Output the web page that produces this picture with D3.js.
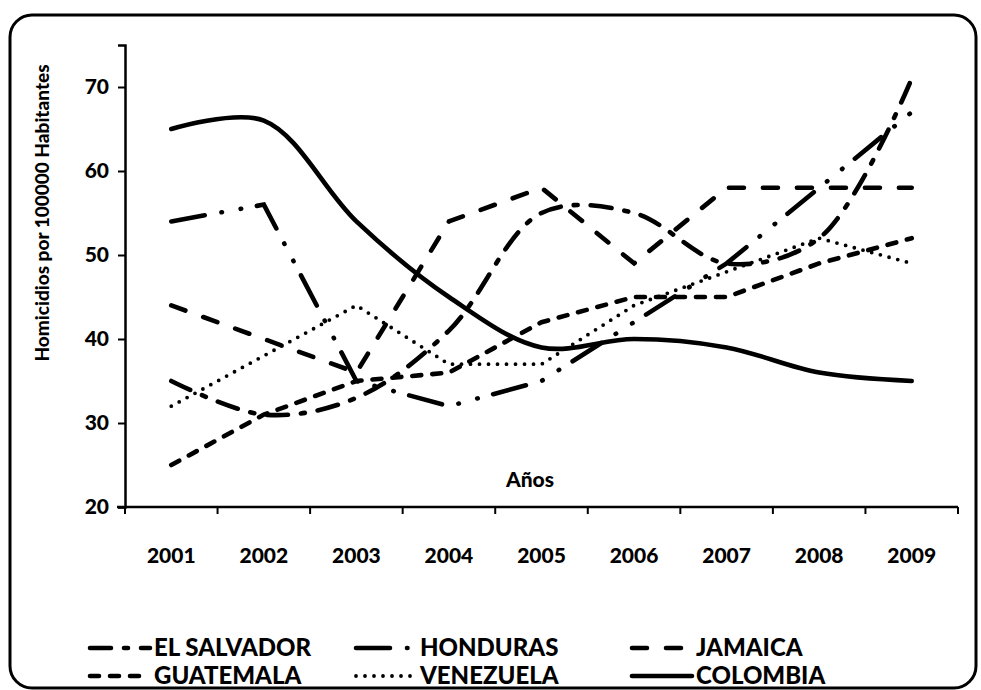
<!DOCTYPE html>
<html lang="en">
<head>
<meta charset="utf-8">
<script src="https://d3js.org/d3.v7.min.js"></script>
<style>
  body { margin: 0; background: #fff; }
  text { font-family: Lato, "Open Sans", sans-serif; font-weight: 900; fill: #000; }
</style>
</head>
<body>
<script>
// values
const years = ["2001", "2002", "2003", "2004", "2005", "2006", "2007", "2008", "2009"];
const elSalvador = [35, 31, 33, 41, 55, 55, 49, 52, 71];
const honduras   = [54, 56, 35, 32, 35, 42, 49, 58, 67];
const jamaica    = [44, 40, 36, 54, 58, 49, 58, 58, 58];
const guatemala  = [25, 31, 35, 36, 42, 45, 45, 49, 52];
const venezuela  = [32, 38, 44, 37, 37, 44, 48, 52, 49];
const colombia   = [65, 66, 54, 45, 39, 40, 39, 36, 35];
const yTicks = [20, 30, 40, 50, 60, 70];

const width = 981, height = 690;
const plotLeft = 125, plotRight = 958, plotTop = 45, plotBottom = 507;

const series = [
  {name: "EL SALVADOR", values: elSalvador, dash: "21,13,4,13", w: 4.6, smooth: true},
  {name: "HONDURAS", values: honduras, dash: "34,17,0.5,19,0.5,16", w: 4.6, smooth: false},
  {name: "JAMAICA", values: jamaica, dash: "15,19", w: 4.6, smooth: false},
  {name: "GUATEMALA", values: guatemala, dash: "9,11", w: 4.6, smooth: false},
  {name: "VENEZUELA", values: venezuela, dash: "0,9", w: 3.8, smooth: false},
  {name: "COLOMBIA", values: colombia, dash: null, w: 4.6, smooth: true}
];

const svg = d3.select("body").append("svg")
  .attr("width", width)
  .attr("height", height);

// outer frame
svg.append("rect")
  .attr("x", 10).attr("y", 15)
  .attr("width", 966).attr("height", 673)
  .attr("rx", 22).attr("ry", 22)
  .attr("fill", "none")
  .attr("stroke", "#000")
  .attr("stroke-width", 3);

const x = d3.scaleBand().domain(years).range([plotLeft, plotRight]).padding(0);
const y = d3.scaleLinear().domain([20, 75]).range([plotBottom, plotTop]);
const cx = d => x(d) + x.bandwidth() / 2;

// y axis
const yAxis = svg.append("g")
  .attr("transform", "translate(" + plotLeft + ",0)")
  .call(d3.axisLeft(y).tickValues(yTicks).tickSize(7).tickPadding(9));
yAxis.select(".domain").attr("stroke-width", 2.5);
yAxis.selectAll(".tick line").attr("stroke-width", 2);
yAxis.selectAll("text").style("font-size", "21px").style("font-family", "Lato").style("font-weight", "900");

// x axis: line plus ticks between categories
svg.append("line")
  .attr("x1", plotLeft - 8).attr("x2", plotRight)
  .attr("y1", plotBottom).attr("y2", plotBottom)
  .attr("stroke", "#000").attr("stroke-width", 2.5);
const edges = years.map(d => x(d)).concat([plotRight]);
svg.selectAll(".xtick")
  .data(edges)
  .enter()
  .append("line")
  .attr("x1", d => d).attr("x2", d => d)
  .attr("y1", plotBottom).attr("y2", plotBottom + 7)
  .attr("stroke", "#000").attr("stroke-width", 2);
svg.selectAll(".xlabel")
  .data(years)
  .enter()
  .append("text")
  .attr("x", d => cx(d))
  .attr("y", 563)
  .attr("text-anchor", "middle")
  .style("font-size", "21px")
  .text(d => d);

// axis titles
svg.append("text")
  .attr("transform", "translate(49,213) rotate(-90)")
  .attr("text-anchor", "middle")
  .style("font-size", "19px")
  .text("Homicidios por 100000 Habitantes");
svg.append("text")
  .attr("x", 530).attr("y", 487)
  .attr("text-anchor", "middle")
  .style("font-size", "21px")
  .text("Años");

// lines
series.forEach(s => {
  const line = d3.line()
    .x((d, i) => cx(years[i]))
    .y(d => y(d))
    .curve(s.smooth ? d3.curveCatmullRom.alpha(0.5) : d3.curveLinear);
  svg.append("path")
    .datum(s.values)
    .attr("fill", "none")
    .attr("stroke", "#000")
    .attr("stroke-width", s.w)
    .attr("stroke-linecap", "round")
    .attr("stroke-dasharray", s.dash)
    .attr("d", line);
});

// legend, 3 columns x 2 rows
const legX = [90, 356, 632];
const legY = [648, 676];
const leg = svg.selectAll(".leg")
  .data(series)
  .enter()
  .append("g")
  .attr("transform", (d, i) => "translate(" + legX[i % 3] + "," + legY[Math.floor(i / 3)] + ")");
leg.append("line")
  .attr("x1", 0).attr("x2", 60)
  .attr("y1", 0).attr("y2", 0)
  .attr("stroke", "#000")
  .attr("stroke-width", d => d.w)
  .attr("stroke-linecap", "round")
  .attr("stroke-dasharray", d => d.dash);
leg.append("text")
  .attr("x", 64).attr("y", 8)
  .style("font-size", "24px")
  .text(d => d.name);
</script>
</body>
</html>
